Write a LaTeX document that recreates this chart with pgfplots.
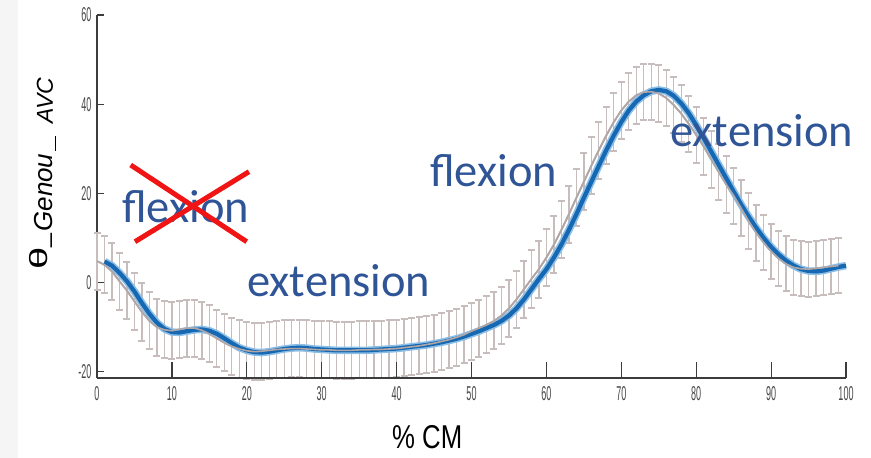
\documentclass[border=0pt]{standalone}
\usepackage{fontspec}
\setmainfont{Liberation Sans}
\newfontfamily\tickfont[FakeStretch=0.45]{Liberation Sans}
\newfontfamily\labfont[FakeStretch=0.78]{Liberation Sans}
\newfontfamily\calib{Carlito}
\usepackage{pgfplots}
\usepackage{pgfplotstable}
\pgfplotsset{compat=1.18}
\definecolor{annblue}{RGB}{47,85,151}
\definecolor{barcol}{RGB}{200,189,189}
\definecolor{graycurve}{RGB}{176,166,166}
\definecolor{bluecurve}{RGB}{22,104,178}
\definecolor{bluehalo}{RGB}{140,190,230}
\definecolor{axiscol}{RGB}{60,60,60}
\definecolor{ticktext}{RGB}{70,70,70}
\definecolor{xred}{RGB}{240,20,20}

\pgfplotstableread{
x y e
0 4.8 6.4
1 4.0 6.4
2 2.5 6.4
3 0.3 6.4
4 -1.8 6.4
5 -4.2 6.4
6 -6.6 6.4
7 -8.6 6.4
8 -10.0 6.4
9 -10.6 6.4
10 -10.8 6.4
11 -10.5 6.4
12 -10.2 6.4
13 -10.2 6.4
14 -10.7 6.4
15 -11.5 6.4
16 -12.5 6.4
17 -13.5 6.4
18 -14.3 6.4
19 -14.9 6.4
20 -15.3 6.4
21 -15.5 6.4
22 -15.4 6.4
23 -15.2 6.4
24 -15.0 6.4
25 -14.9 6.4
26 -14.8 6.4
27 -14.8 6.4
28 -14.9 6.4
29 -15.0 6.4
30 -15.1 6.4
31 -15.1 6.4
32 -15.2 6.4
33 -15.2 6.4
34 -15.2 6.4
35 -15.1 6.4
36 -15.1 6.4
37 -15.0 6.4
38 -15.0 6.4
39 -14.9 6.4
40 -14.8 6.4
41 -14.6 6.4
42 -14.4 6.4
43 -14.2 6.4
44 -13.9 6.4
45 -13.6 6.4
46 -13.2 6.4
47 -12.8 6.4
48 -12.3 6.4
49 -11.7 6.4
50 -10.9 6.4
51 -10.2 6.4
52 -9.5 6.4
53 -8.6 6.4
54 -7.4 6.4
55 -5.8 6.4
56 -3.8 6.4
57 -1.5 6.4
58 0.8 6.4
59 3.0 6.4
60 5.6 6.4
61 8.5 6.4
62 11.8 6.4
63 15.3 6.4
64 19.0 6.4
65 22.6 6.4
66 26.2 6.4
67 29.7 6.4
68 33.0 6.4
69 36.0 6.4
70 38.6 6.4
71 40.6 6.4
72 42.0 6.4
73 42.7 6.3
74 42.8 6.3
75 42.4 6.3
76 41.4 6.3
77 39.8 6.3
78 37.9 6.3
79 35.6 6.3
80 33.1 6.3
81 30.5 6.3
82 27.6 6.3
83 24.8 6.3
84 22.0 6.3
85 19.5 6.3
86 16.7 6.3
87 13.8 6.3
88 11.2 6.3
89 9.0 6.2
90 7.0 6.2
91 5.4 6.2
92 4.2 6.2
93 3.4 6.2
94 3.1 6.2
95 3.0 6.2
96 3.2 6.2
97 3.4 6.2
98 3.6 6.2
99 3.8 6.2
}\graydata

\pgfplotstableread{
x y
1 4.7
2 3.8
3 2.2
4 0.3
5 -2.0
6 -4.6
7 -7.0
8 -9.0
9 -10.4
10 -11.1
11 -11.2
12 -10.9
13 -10.6
14 -10.5
15 -10.8
16 -11.5
17 -12.5
18 -13.6
19 -14.6
20 -15.2
21 -15.6
22 -15.7
23 -15.5
24 -15.2
25 -14.9
26 -14.7
27 -14.6
28 -14.7
29 -14.9
30 -15.0
31 -15.1
32 -15.2
33 -15.2
34 -15.2
35 -15.2
36 -15.2
37 -15.1
38 -15.0
39 -14.9
40 -14.8
41 -14.6
42 -14.4
43 -14.2
44 -14.0
45 -13.7
46 -13.4
47 -13.0
48 -12.6
49 -12.1
50 -11.5
51 -10.9
52 -10.2
53 -9.5
54 -8.6
55 -7.4
56 -5.8
57 -3.8
58 -1.5
59 0.8
60 3.0
61 5.6
62 8.5
63 11.8
64 15.3
65 19.0
66 22.6
67 26.2
68 29.7
69 33.0
70 36.0
71 38.6
72 40.6
73 42.0
74 42.9
75 43.2
76 42.9
77 41.9
78 40.2
79 38.0
80 35.3
81 32.4
82 29.4
83 26.4
84 23.4
85 20.4
86 17.5
87 14.8
88 12.3
89 10.0
90 8.0
91 6.3
92 4.9
93 3.8
94 3.0
95 2.6
96 2.5
97 2.7
98 3.1
99 3.5
100 3.8
}\bluedata

\begin{document}
\begin{tikzpicture}
\path[use as bounding box] (0,0) rectangle (871pt,458pt);
\fill[black!4] (0,0) rectangle (18pt,458pt);
\begin{axis}[
  at={(97pt,80pt)}, anchor=south west,
  scale only axis, width=749pt, height=363pt,
  xmin=0, xmax=100, ymin=-21.4, ymax=60,
  axis x line=bottom, axis y line=left,
  axis line style={-},
  x axis line style={axiscol, line width=2pt},
  y axis line style={axiscol, line width=1.3pt},
  xtick={0,10,...,100},
  xticklabels={0,10,20,30,40,50,60,70,80,90,100},
  ytick={-20,0,20,40,60},
  yticklabels={-20,0,20,40,60},
  xtick style={draw=none},
  ytick style={axiscol, line width=1.2pt},
  major tick length=7pt, tick align=inside,
  tick label style={font=\tickfont\fontsize{20}{20}\selectfont, text=ticktext},
  xticklabel style={yshift=-5pt},
  yticklabel style={xshift=-2pt},
  clip=false,
]
\addplot[graycurve, line width=1.8pt,
  error bars/.cd, y dir=both, y explicit,
  error bar style={barcol, line width=1.3pt},
  error mark options={rotate=90, barcol, line width=2pt, mark size=3.5pt}]
  table[x=x, y=y, y error=e]{\graydata};
\addplot[bluehalo, line width=7.5pt, line join=round] table[x=x, y=y]{\bluedata};
\addplot[bluecurve, line width=4.2pt, line join=round] table[x=x, y=y]{\bluedata};
\addplot[graycurve, line width=1.6pt, line join=round] table[x=x, y=y]{\graydata};
\end{axis}
\begin{axis}[
  at={(97pt,80pt)}, anchor=south west,
  scale only axis, width=749pt, height=363pt,
  xmin=0, xmax=100, ymin=-21.4, ymax=60,
  hide y axis, axis x line=bottom,
  axis line style={-},
  x axis line style={axiscol, line width=2pt},
  xtick={10,20,...,100}, xticklabels={},
  xtick style={axiscol, line width=1.2pt},
  major tick length=16pt, tick align=inside,
]
\addplot[draw=none] coordinates {(50,0)};
\end{axis}
% annotations
\node[anchor=base west, inner sep=0, text=annblue, font=\calib\fontsize{46.5}{50}\selectfont] at (122pt,235pt) {flexion};
\node[anchor=base west, inner sep=0, text=annblue, font=\calib\fontsize{46.5}{50}\selectfont] at (247pt,161pt) {extension};
\node[anchor=base west, inner sep=0, text=annblue, font=\calib\fontsize{46.5}{50}\selectfont] at (430pt,271pt) {flexion};
\node[anchor=base west, inner sep=0, text=annblue, font=\calib\fontsize{46.5}{50}\selectfont] at (670pt,311pt) {extension};
\draw[xred, line width=5pt] (130.7pt,293pt) -- (246.7pt,216.3pt);
\draw[xred, line width=5pt] (135pt,216.3pt) -- (249pt,286.3pt);
% axis titles
\node[anchor=base west, inner sep=0, font=\labfont\fontsize{33}{36}\selectfont] at (392pt,9pt) {\% CM};
\node[rotate=90, anchor=base west, inner sep=0] at (47pt,188pt)
  {{\fontsize{25}{25}\selectfont\scalebox{1.6}[1]{θ}\_}\hspace{2pt}{\fontsize{26}{26}\selectfont\raisebox{-6pt}{\itshape Genou\hspace{3pt}\rule[-3pt]{15pt}{1.5pt}\hspace{12pt}{\fontsize{23}{23}\selectfont AVC}}}};
\end{tikzpicture}
\end{document}
